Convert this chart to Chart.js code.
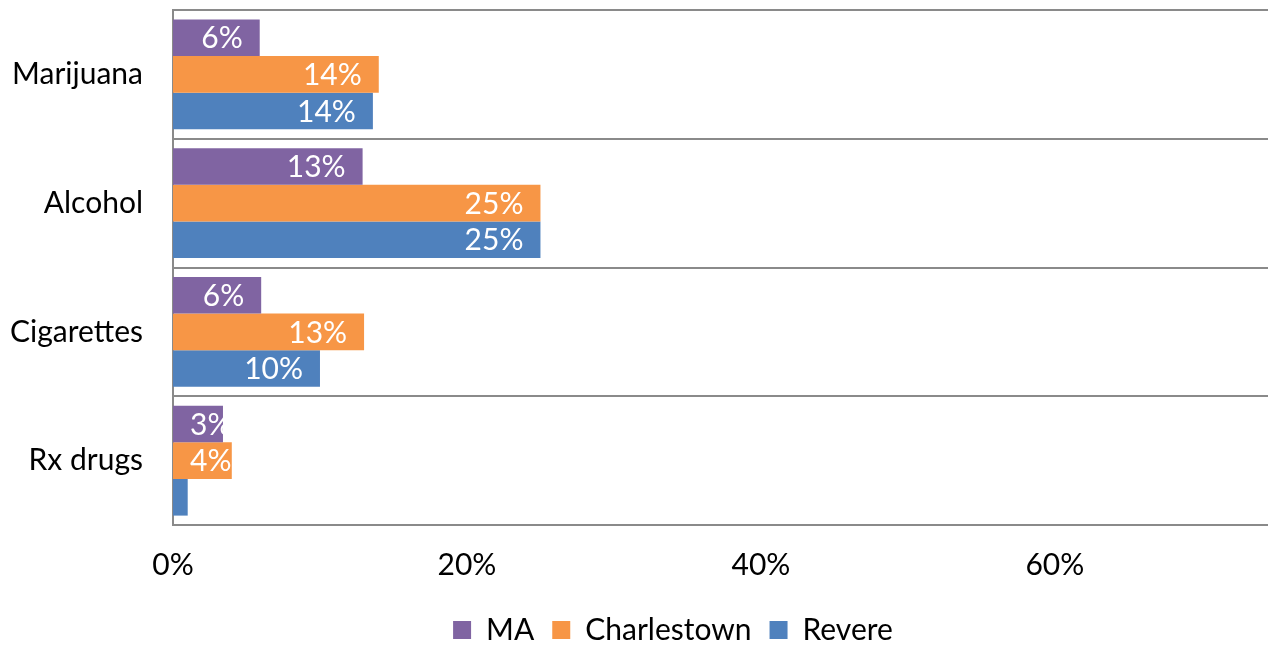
<!DOCTYPE html>
<html>
<head>
<meta charset="utf-8">
<script src="https://cdn.jsdelivr.net/npm/chart.js@4/dist/chart.umd.min.js"></script>
<style>
  html, body { margin: 0; padding: 0; background: #fff; overflow: hidden; }
  #wrap { width: 1268px; height: 645px; }
</style>
</head>
<body>
<div id="wrap"><canvas id="substanceChart" width="1268" height="645"></canvas></div>
<script>
// dados
const categorias = ['Marijuana', 'Alcohol', 'Cigarettes', 'Rx drugs'];
const seriesNomes = ['MA', 'Charlestown', 'Revere'];
const valoresMA = [0.059, 0.129, 0.060, 0.034];
const valoresCharlestown = [0.140, 0.250, 0.130, 0.040];
const valoresRevere = [0.136, 0.250, 0.100, 0.010];
const ticksX = [0, 0.2, 0.4, 0.6];
const cores = ['#8064A2', '#F79646', '#4F81BD'];

const fonte = 'Lato, "Open Sans", sans-serif';
const cinza = '#8a8a8a';

function pct(v) {
    return Math.round(v * 100) + '%';
}

// rótulos brancos dentro do fim de cada barra
const rotulosBarras = {
    id: 'rotulosBarras',
    afterDatasetsDraw(chart) {
        const ctx = chart.ctx;
        const x0 = chart.scales.x.getPixelForValue(0);
        ctx.save();
        ctx.font = '30px ' + fonte;
        ctx.fillStyle = '#ffffff';
        ctx.textAlign = 'right';
        ctx.textBaseline = 'middle';
        chart.data.datasets.forEach((ds, i) => {
            chart.getDatasetMeta(i).data.forEach((bar, j) => {
                if (bar.x - x0 < 25) return;
                const txt = pct(ds.data[j]);
                const w = ctx.measureText(txt).width;
                const xr = Math.max(bar.x - 17, x0 + 17 + w);
                ctx.fillText(txt, xr, bar.y + 1);
            });
        });
        ctx.restore();
    }
};

// legenda um pouco deslocada para a direita, como no original
const deslocaLegenda = {
    id: 'deslocaLegenda',
    afterLayout(chart) {
        chart.legend.left += 39;
        chart.legend.right += 39;
    }
};

const ctx = document.getElementById('substanceChart').getContext('2d');
const chart = new Chart(ctx, {
    type: 'bar',
    data: {
        labels: categorias,
        datasets: [
            { label: seriesNomes[0], data: valoresMA, backgroundColor: cores[0] },
            { label: seriesNomes[1], data: valoresCharlestown, backgroundColor: cores[1] },
            { label: seriesNomes[2], data: valoresRevere, backgroundColor: cores[2] }
        ]
    },
    options: {
        indexAxis: 'y',
        responsive: false,
        animation: false,
        barPercentage: 1.0,
        categoryPercentage: 0.854,
        layout: { padding: { top: 10, right: 0, left: 0, bottom: -10 } },
        scales: {
            x: {
                min: 0,
                max: 0.745,
                afterBuildTicks: s => { s.ticks = ticksX.map(v => ({ value: v })); },
                afterFit: s => { s.height = 72; s.paddingLeft = 0; s.paddingRight = 0; },
                grid: { display: false, drawTicks: false },
                border: { display: false },
                ticks: {
                    padding: 22,
                    color: '#000',
                    font: { family: fonte, size: 30 },
                    callback: v => pct(v)
                }
            },
            y: {
                afterFit: s => { s.width = 173; s.paddingTop = 0; s.paddingBottom = 0; },
                grid: { offset: true, color: cinza, lineWidth: 2, drawTicks: false },
                border: { display: true, color: cinza, width: 2 },
                ticks: {
                    padding: 30,
                    color: '#000',
                    font: { family: fonte, size: 30 }
                }
            }
        },
        plugins: {
            legend: {
                position: 'bottom',
                labels: {
                    boxWidth: 18,
                    boxHeight: 18,
                    padding: 18,
                    color: '#000',
                    font: { family: fonte, size: 30 }
                }
            },
            tooltip: { enabled: false }
        }
    },
    plugins: [rotulosBarras, deslocaLegenda]
});
</script>
</body>
</html>
